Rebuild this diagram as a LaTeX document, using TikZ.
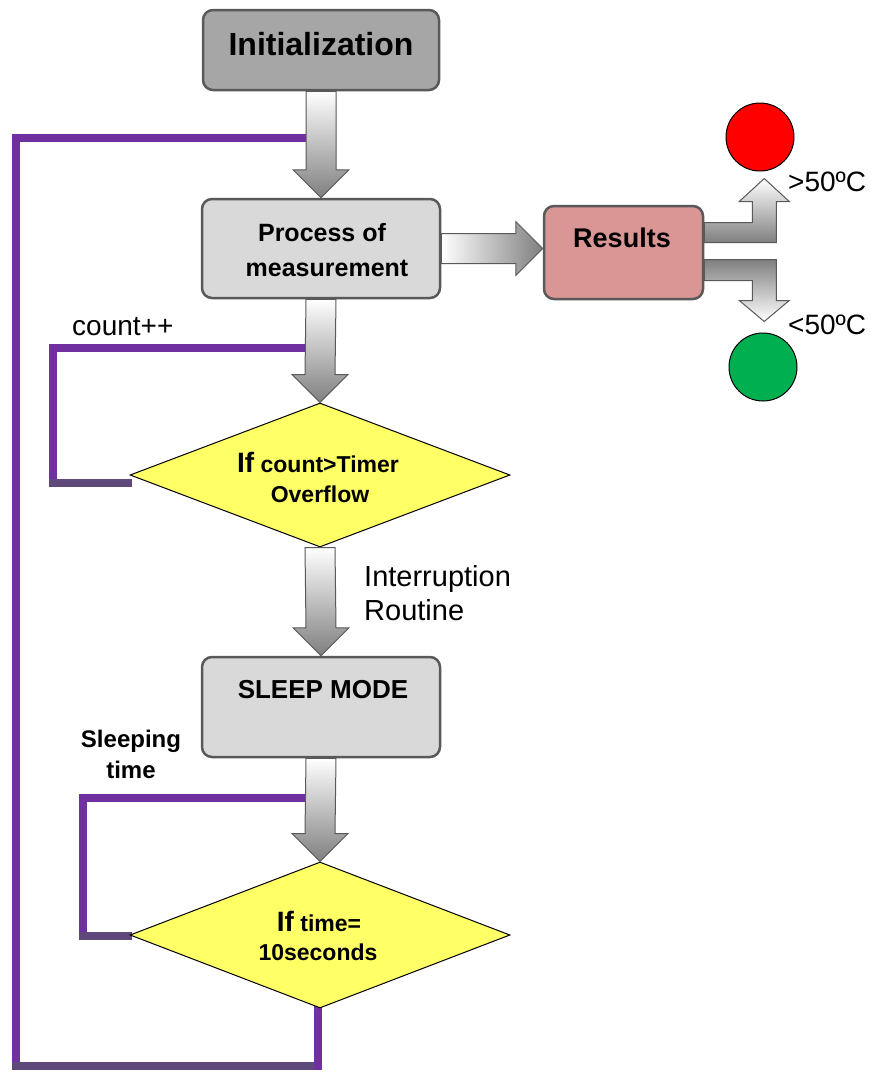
\documentclass[tikz,border=0pt]{standalone}
\usepackage{fontspec}
\setmainfont{Liberation Sans}
\usetikzlibrary{shapes.geometric,calc}
\definecolor{purp}{HTML}{7030A0}
\definecolor{purpdark}{HTML}{5F497A}
\definecolor{edge}{HTML}{595959}
\definecolor{initfill}{HTML}{A6A6A6}
\definecolor{boxfill}{HTML}{D9D9D9}
\definecolor{resfill}{HTML}{D99694}
\definecolor{dfill}{HTML}{FFFF66}
\definecolor{redc}{HTML}{FF0000}
\definecolor{greenc}{HTML}{00B050}
\definecolor{arrgray}{HTML}{7F7F7F}
\newcommand\fsz[1]{\fontsize{#1}{#1}\selectfont}
\newcommand\blockdown[2]{\path[blockarr] ($(#1)+(-15,0)$) -- ($(#2)+(-15,-28)$) -- ($(#2)+(-28,-28)$) -- (#2) -- ($(#2)+(28,-28)$) -- ($(#2)+(15,-28)$) -- ($(#1)+(15,0)$) -- cycle;}
\begin{document}
\begin{tikzpicture}[x=1pt,y=-1pt,
  box/.style={draw=edge, line width=2.5pt, rounded corners=10pt, inner sep=0pt},
  dia/.style={diamond, draw=black, line width=1pt, fill=dfill, inner sep=0pt},
  loopline/.style={draw=purp, line width=8pt, line cap=rect},
  loopdark/.style={draw=purpdark, line width=8pt, line cap=rect},
  blockarr/.style={draw=edge, line width=1pt, top color=white, bottom color=arrgray},
  lbl/.style={inner sep=0pt, text=black}
]
\useasboundingbox (0,0) rectangle (871,1072);

% junction coordinates on arrows and loop corners
\coordinate (j1) at (321,138);
\coordinate (j2) at (321,348);
\coordinate (j3) at (321,798);
\coordinate (bl) at (16,1066);
\coordinate (br) at (318,1066);
\coordinate (l1c) at (53,483);
\coordinate (l1e) at (128,483);
\coordinate (l2c) at (83,936);
\coordinate (l2e) at (128,936);

% nodes
\node[box, fill=initfill, minimum width=236, minimum height=80] (init) at (321,50) {};
\node[box, fill=boxfill, minimum width=238, minimum height=99] (proc) at (321,248.5) {};
\node[box, fill=resfill, minimum width=159, minimum height=93] (res) at (623.5,252.5) {};
\node[box, fill=boxfill, minimum width=238, minimum height=100] (sleep) at (321,707) {};

% loops (behind diamonds and arrows)
\draw[loopline] (j1) -| (bl);
\draw[loopdark] (bl) -- (br);
\draw[loopline] (br) -- (318,1008) coordinate (d2b);
\draw[loopline] (j2) -| (l1c);
\draw[loopdark] (l1c) -- (l1e);
\draw[loopline] (j3) -| (l2c);
\draw[loopdark] (l2c) -- (l2e);

\node[dia, minimum width=380, minimum height=144] (d1) at (320,475) {};
\node[dia, minimum width=380, minimum height=146] (d2) at (320,935) {};

% block arrows
\blockdown{init.south}{proc.north}
\blockdown{proc.south}{d1.north}
\blockdown{d1.south}{sleep.north}
\blockdown{sleep.south}{d2.north}

\coordinate (rtip) at (res.west |- proc.east);
\path[draw=edge, line width=1pt, left color=white, right color=arrgray]
  ($(proc.east)+(0,-15)$) -- ($(rtip)+(-27,-15)$) -- ($(rtip)+(-27,-27)$) -- (rtip)
  -- ($(rtip)+(-27,27)$) -- ($(rtip)+(-27,15)$) -- ($(proc.east)+(0,15)$) -- cycle;

\path[draw=edge, line width=1pt, top color=white, bottom color=arrgray]
  ($(res.east)+(0,-30)$) -- ($(res.east)+(48,-30)$) -- ($(res.east)+(48,-51)$)
  -- ($(res.east)+(35,-51)$) -- ($(res.east)+(60,-74)$) -- ($(res.east)+(85,-51)$)
  -- ($(res.east)+(72,-51)$) -- ($(res.east)+(72,-10)$) -- ($(res.east)+(0,-10)$) -- cycle;
\path[draw=edge, line width=1pt, top color=arrgray, bottom color=white]
  ($(res.east)+(0,7)$) -- ($(res.east)+(72,7)$) -- ($(res.east)+(72,48)$)
  -- ($(res.east)+(85,48)$) -- ($(res.east)+(60,69)$) -- ($(res.east)+(35,48)$)
  -- ($(res.east)+(48,48)$) -- ($(res.east)+(48,28)$) -- ($(res.east)+(0,28)$) -- cycle;

\node[circle, draw=black, line width=1pt, fill=redc, minimum size=68] (red) at (760,137) {};
\node[circle, draw=black, line width=1pt, fill=greenc, minimum size=68] (green) at (763,367) {};

% texts
\node[lbl, anchor=base, font=\bfseries\fsz{32}] (tinit) at (321,55) {Initialization};
\node[lbl, anchor=base, font=\bfseries\fsz{25}] (tproc1) at (322,241) {Process of};
\node[lbl, anchor=base, font=\bfseries\fsz{25}] (tproc2) at (327,276) {measurement};
\node[lbl, anchor=base, font=\bfseries\fsz{27}] (tres) at (622,247) {Results};
\node[lbl, anchor=base, font=\bfseries\fsz{26}] (tsleep) at (323,698) {SLEEP MODE};
\node[lbl, anchor=base west, font=\fsz{28}] (thi) at (788,191) {>50ºC};
\node[lbl, anchor=base west, font=\fsz{28}] (tlo) at (788,334) {<50ºC};
\node[lbl, anchor=base west, font=\fsz{29}] (tint1) at (364,586) {Interruption};
\node[lbl, anchor=base west, font=\fsz{29}] (tint2) at (364,620) {Routine};
\node[lbl, anchor=base west, font=\fsz{28}] (tcount) at (72,335) {count++};
\node[lbl, anchor=base, font=\bfseries\fsz{24}] (tsl1) at (131,747) {Sleeping};
\node[lbl, anchor=base, font=\bfseries\fsz{24}] (tsl2) at (131,778) {time};
\node[lbl, anchor=base, font=\bfseries\fsz{23}] (td1a) at (318,472) {{\fsz{28}If} count>Timer};
\node[lbl, anchor=base, font=\bfseries\fsz{23}] (td1b) at (320,502) {Overflow};
\node[lbl, anchor=base, font=\bfseries\fsz{23}] (td2a) at (319,931) {{\fsz{28}If} time=};
\node[lbl, anchor=base, font=\bfseries\fsz{23}] (td2b) at (318,960) {10seconds};
\end{tikzpicture}
\end{document}
